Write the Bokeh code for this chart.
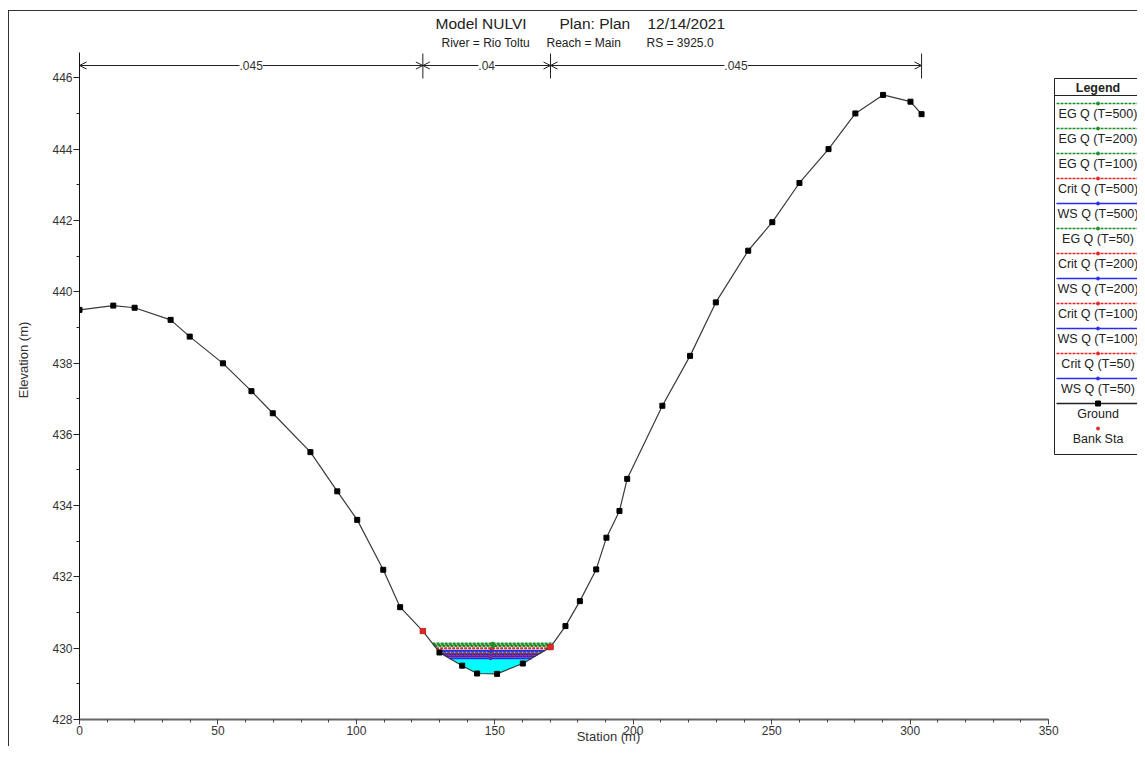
import numpy as np
from bokeh.plotting import figure
from bokeh.models import Range1d, SingleIntervalTicker, Arrow, OpenHead, Label
from bokeh.core.properties import value
from bokeh.embed import file_html
from bokeh.resources import INLINE

# ---------------- data ----------------
station = [0.0, 12.2, 19.9, 32.9, 39.8, 51.8, 62.1, 69.8, 83.4, 93.1, 100.3, 109.7,
           115.8, 124.0, 130.0, 138.2, 143.6, 150.8, 160.1, 170.1, 175.5, 180.7,
           186.6, 190.3, 195.0, 197.8, 210.5, 220.5, 229.8, 241.5, 250.2, 260.0,
           270.5, 280.2, 290.2, 300.1, 304.1]
elevation = [439.49, 439.61, 439.55, 439.21, 438.74, 437.99, 437.21, 436.59, 435.50,
             434.40, 433.60, 432.20, 431.15, 430.48, 429.88, 429.51, 429.29, 429.28,
             429.57, 430.03, 430.62, 431.32, 432.21, 433.10, 433.85, 434.75, 436.80,
             438.20, 439.70, 441.15, 441.95, 443.05, 444.00, 445.00, 445.52, 445.33,
             444.98]
bank_sta = [124.0, 170.1]
bank_elev = [430.48, 430.03]
n_values = [".045", ".04", ".045"]

profiles = ["EG Q (T=500)", "EG Q (T=200)", "EG Q (T=100)", "Crit Q (T=500)",
            "WS Q (T=500)", "EG Q (T=50)", "Crit Q (T=200)", "WS Q (T=200)",
            "Crit Q (T=100)", "WS Q (T=100)", "Crit Q (T=50)", "WS Q (T=50)"]
profile_kind = ["EG", "EG", "EG", "Crit", "WS", "EG", "Crit", "WS", "Crit", "WS", "Crit", "WS"]
profile_elev = [430.13, 430.10, 430.06, 430.00, 429.93, 429.90, 429.88, 429.84,
                429.81, 429.78, 429.76, 429.72]

title_1 = ["Model NULVI", "Plan: Plan", "12/14/2021"]
title_2 = ["River = Rio Toltu", "Reach = Main", "RS = 3925.0"]
x_label = "Station (m)"
y_label = "Elevation (m)"

# ---------------- layout helpers (pixel -> data, for non-data decorations) ----------------
X0PX, XPX = 79.0, 2.769
Y0PX, YPX = 719.0, 35.65
Y_BASE = 428.0
def sx(px):
    return (px - X0PX) / XPX
def sy(py):
    return Y_BASE + (Y0PX - py) / YPX

FONT = value("Liberation Sans")
STYLE = {"EG": dict(color="#1f8f2a", dash="3 1"),
         "Crit": dict(color="#e02828", dash="3 1"),
         "WS": dict(color="#2a2af0", dash="solid")}

W, H = 1137, 746
frame_style = {
    "background-image": "linear-gradient(#333,#333), linear-gradient(#333,#333)",
    "background-size": "1px 100%, 100% 1px",
    "background-position": "8px 10px, 8px 10px",
    "background-repeat": "no-repeat",
}
p = figure(width=W, height=H, output_backend="svg", toolbar_location=None,
           x_range=Range1d(0, sx(W)), y_range=Range1d(Y_BASE, sy(0)),
           min_border_left=79, min_border_right=0, min_border_top=0,
           min_border_bottom=H - 719,
           background_fill_color=None, border_fill_color=None,
           styles=frame_style)
p.outline_line_color = None
p.xgrid.visible = False
p.ygrid.visible = False

# axes
p.xaxis.ticker = SingleIntervalTicker(interval=50, num_minor_ticks=5)
p.xaxis.bounds = (0, 350)
p.yaxis.ticker = SingleIntervalTicker(interval=2, num_minor_ticks=2)
p.yaxis.bounds = (428, 446.7)
for ax in (p.xaxis[0], p.yaxis[0]):
    ax.major_tick_in = 0
    ax.minor_tick_in = 0
    ax.major_label_text_font = "Liberation Sans"
    ax.major_label_text_font_size = "12px"
    ax.major_label_text_color = "#333333"
    ax.axis_label_text_font = "Liberation Sans"
    ax.axis_label_text_font_size = "13px"
    ax.axis_label_text_font_style = "normal"
    ax.axis_label_text_color = "#333333"
p.xaxis.axis_label = x_label
p.yaxis.axis_label = y_label
p.xaxis.axis_line_color = "#666666"
p.xaxis.axis_line_width = 2
p.xaxis.major_tick_line_color = "#444444"
p.xaxis.minor_tick_line_color = "#444444"
p.xaxis.major_tick_out = 5
p.xaxis.minor_tick_out = 3
p.xaxis.major_label_standoff = 1
p.xaxis.axis_label_standoff = -9
p.yaxis.axis_line_color = "#111111"
p.yaxis.major_tick_line_color = "#222222"
p.yaxis.minor_tick_line_color = "#222222"
p.yaxis.major_tick_out = 6
p.yaxis.minor_tick_out = 3
p.yaxis.major_label_standoff = 1
p.yaxis.axis_label_standoff = 18

# ---------------- water ----------------
st = np.array(station)
el = np.array(elevation)
imin = int(np.argmin(el))

def crossing(level):
    i = imin
    while el[i] < level:
        i -= 1
    xl = st[i] + (level - el[i]) * (st[i + 1] - st[i]) / (el[i + 1] - el[i])
    j = imin
    while el[j] < level:
        j += 1
    xr = st[j - 1] + (level - el[j - 1]) * (st[j] - st[j - 1]) / (el[j] - el[j - 1])
    return i, j, xl, xr

ws_low = profile_elev[-1]
i, j, xl, xr = crossing(ws_low)
fx = [xl] + list(st[i + 1:j]) + [xr]
fy = [ws_low] + list(el[i + 1:j]) + [ws_low]
p.patch(fx, fy, fill_color="#00ffff", line_color=None)

for name, kind, lev in reversed(list(zip(profiles, profile_kind, profile_elev))):
    _, _, xl, xr = crossing(lev)
    s = STYLE[kind]
    p.line([xl, xr], [lev, lev], line_color=s["color"], line_width=2, line_dash=s["dash"])
    p.scatter([(xl + xr) / 2], [lev], marker="circle", size=3, color=s["color"])

# ground
p.line(station, elevation, line_color="#3a3a3a", line_width=1.2)
p.scatter(station, elevation, marker="square", size=5, color="black")
p.scatter(bank_sta, bank_elev, marker="square", size=5, color="#e02828")

# ---------------- n values ----------------
yn = sy(65)
bounds_n = [station[0], bank_sta[0], bank_sta[1], station[-1]]
for k in range(3):
    a, b = bounds_n[k], bounds_n[k + 1]
    p.add_layout(Arrow(x_start=a, y_start=yn, x_end=b, y_end=yn, line_width=1, line_color="#222222",
                       start=OpenHead(size=7, line_width=1, line_color="#222222"),
                       end=OpenHead(size=7, line_width=1, line_color="#222222")))
    p.add_layout(Label(x=(a + b) / 2, y=yn, text=n_values[k], text_align="center",
                       text_baseline="middle", text_font="Liberation Sans", text_font_size="12px",
                       text_color="#333333", background_fill_color="white"))
p.segment(x0=bounds_n[1:], y0=[sy(53)] * 3, x1=bounds_n[1:], y1=[sy(78)] * 3,
          line_color="#222222", line_width=1)

# ---------------- titles ----------------
p.text(x=[sx(435), sx(559), sx(647)], y=[sy(23)] * 3, text=title_1, text_font=FONT,
       text_font_size="15.5px", text_color="#222222", text_baseline="middle", text_align="left")
p.text(x=[sx(441), sx(546), sx(646)], y=[sy(42)] * 3, text=title_2, text_font=FONT,
       text_font_size="12px", text_color="#222222", text_baseline="middle", text_align="left")

# ---------------- legend ----------------
LX0, LX1 = sx(1054), sx(1141)
LXC = sx(1097.5)
p.quad(left=[LX0], right=[LX1], top=[sy(78)], bottom=[sy(454)], fill_color="white",
       line_color="#222222", line_width=1)
p.text(x=[LXC], y=[sy(87)], text=["Legend"], text_font=FONT, text_font_size="12.5px",
       text_font_style="bold", text_color="#222222", text_align="center", text_baseline="middle")
p.segment(x0=[LX0], y0=[sy(95)], x1=[LX1], y1=[sy(95)], line_color="#222222", line_width=1)

leg_labels = profiles + ["Ground", "Bank Sta"]
for k, lab in enumerate(leg_labels):
    ly = 103 + 25 * k
    if k < len(profiles):
        s = STYLE[profile_kind[k]]
        p.line([sx(1056), sx(1139)], [sy(ly)] * 2, line_color=s["color"], line_width=1.4,
               line_dash=s["dash"])
        p.scatter([LXC], [sy(ly)], marker="circle", size=3, color=s["color"])
    elif lab == "Ground":
        p.line([sx(1056), sx(1139)], [sy(ly)] * 2, line_color="#222222", line_width=1.4)
        p.scatter([LXC], [sy(ly)], marker="square", size=5, color="black")
    else:
        p.scatter([LXC], [sy(ly)], marker="circle", size=3, color="#e02828")
    p.text(x=[LXC], y=[sy(ly + 10)], text=[lab], text_font=FONT, text_font_size="12.5px",
           text_color="#222222", text_align="center", text_baseline="middle")

open("out.html", "w").write(file_html(p, INLINE))
